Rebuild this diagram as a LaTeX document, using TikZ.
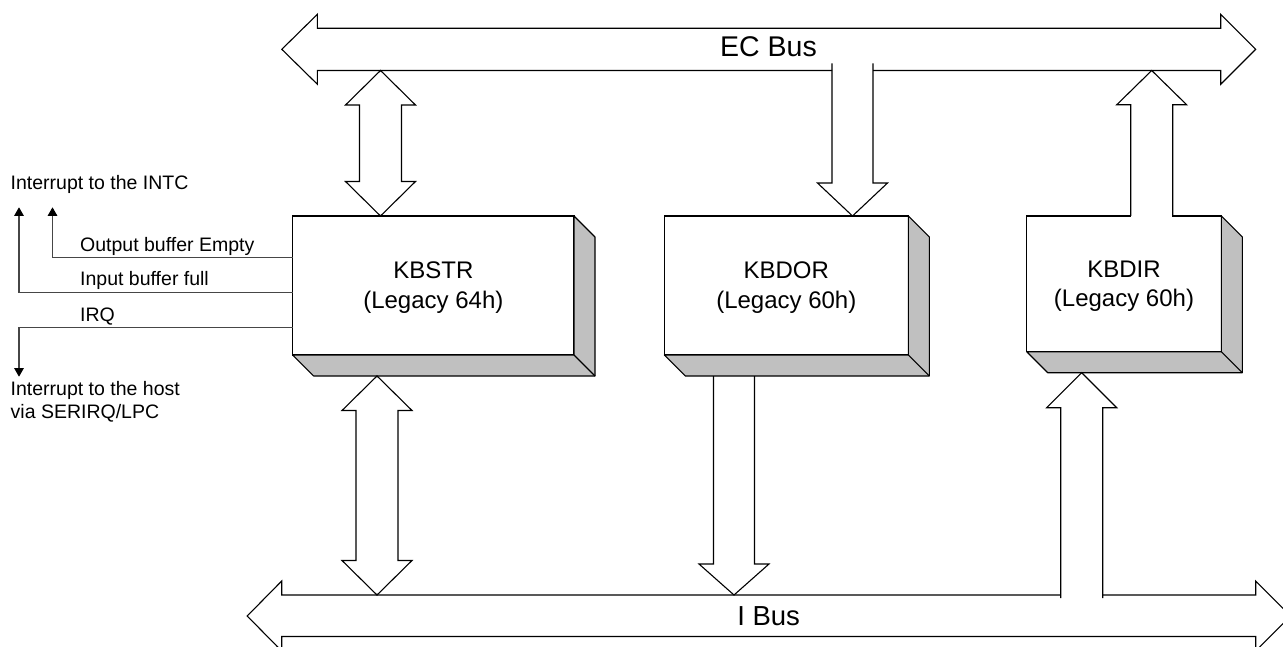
\documentclass[tikz,border=0pt]{standalone}
\usepackage{fontspec}
\setmainfont{Liberation Sans}
\usetikzlibrary{calc,arrows.meta}
\definecolor{shadowgray}{RGB}{192,192,192}
\definecolor{sigline}{RGB}{70,70,70}
\tikzset{
 ln/.style={line width=1.1pt, draw=black, line join=miter},
 fat/.style={ln},
 box/.style={draw=black, fill=white, line width=1.3pt, inner sep=0pt, outer sep=0pt, align=center, font=\fontsize{24}{29.5}\selectfont},
 side/.style={draw=black, fill=shadowgray, line width=1.1pt, line join=round},
 sig/.style={draw=sigline, line width=1.1pt},
 sigarr/.style={sig, -{Triangle[length=8.5pt,width=9.5pt,color=black]}},
 lbl/.style={font=\fontsize{19.5}{23}\selectfont, inner sep=0pt, anchor=base west},
 buslbl/.style={inner sep=0pt, anchor=base},
}
\newcommand\boxdepth[1]{%
 \draw[side] (#1.north east) -- ++(21,21) -- ($(#1.south east)+(21,21)$) -- ($(#1.south west)+(21,21)$) -- (#1.south west) -- (#1.south east) -- cycle;
 \draw[ln] (#1.south east) -- ++(21,21);}
\newcommand\fatdouble[2]{%
 \draw[fat] (#1) -- ++(35,34.5) -- ++(-14,0) -- ($(#2)+(21,-34.5)$) -- ++(14,0) -- (#2) -- ++(-35,-34.5) -- ++(14,0) -- ($(#1)+(-21,34.5)$) -- ++(-14,0) -- cycle;}
\newcommand\fatdown[3]{%
 \draw[fat] ($(#1)+(-20.5,0)$) -- ($(#2)+(-20.5,-#3)$) -- ++(-14.5,0) -- (#2) -- ++(35,-#3) -- ++(-14.5,0) -- ($(#1)+(20.5,0)$);}
\newcommand\fatup[3]{%
 \draw[fat] ($(#1)+(-21,0)$) -- ($(#2)+(-21,#3)$) -- ++(-14,0) -- (#2) -- ++(35,#3) -- ++(-14,0) -- ($(#1)+(21,0)$);}
\begin{document}
\begin{tikzpicture}[x=1pt,y=-1pt]
\useasboundingbox (0,0) rectangle (1283,647);
\fill[white] (0,0) rectangle (1283,647);
\begin{scope}
\clip (0,0) rectangle (1283,647);
% EC Bus
\draw[ln] (832,70.5) -- (317.4,70.5) -- (317.4,84.3) -- (281.8,49.3) -- (317.4,14.3) -- (317.4,28.3) -- (1220.7,28.3) -- (1220.7,14.3) -- (1255.7,49.3) -- (1220.7,84.3) -- (1220.7,70.5) -- (873,70.5);
% I Bus
\draw[ln] (1060.7,595) -- (281.7,595) -- (281.7,581) -- (247.2,616) -- (281.7,651) -- (281.7,636.5) -- (1255.7,636.5) -- (1255.7,651) -- (1290.7,616) -- (1255.7,581) -- (1255.7,595) -- (1102.7,595);
\end{scope}
\node[buslbl, font=\fontsize{28.5}{34}\selectfont] (ecbus) at (768.5,57) {EC Bus};
\node[buslbl, font=\fontsize{27.5}{33}\selectfont] (ibus) at (768.6,625) {I Bus};

% registers
\node[box, minimum width=281.3pt, minimum height=139pt] (kbstr) at (433.35,285.5) {\rule{0pt}{21pt}KBSTR\\(Legacy 64h)};
\node[box, minimum width=244pt, minimum height=139pt] (kbdor) at (786.3,285.5) {\rule{0pt}{21pt}KBDOR\\(Legacy 60h)};
\node[box, minimum width=194.6pt, minimum height=135.7pt] (kbdir) at (1124,283.85) {\rule{0pt}{21pt}KBDIR\\(Legacy 60h)};
\boxdepth{kbstr}
\boxdepth{kbdor}
\boxdepth{kbdir}

% bus ports
\coordinate (ec1) at (380.5,70.5);
\coordinate (ec2) at (852.5,63.5);
\coordinate (ec3) at (1151.7,70.5);
\coordinate (ib1) at (377,595);
\coordinate (ib2) at (734,595);
\coordinate (ib3) at (1081.7,598);

% KBSTR <-> EC Bus
\coordinate (s1b) at (ec1 |- kbstr.north);
\fatdouble{ec1}{s1b}
% KBSTR <-> I Bus
\coordinate (s2t) at ($(ib1 |- kbstr.south)+(0,21)$);
\fatdouble{s2t}{ib1}
% EC Bus -> KBDOR
\coordinate (d1b) at (ec2 |- kbdor.north);
\fatdown{ec2}{d1b}{33}
% KBDOR -> I Bus
\coordinate (d2t) at ($(ib2 |- kbdor.south)+(0,21)$);
\fatdown{d2t}{ib2}{31}
% KBDIR -> EC Bus
\coordinate (u1b) at (ec3 |- kbdir.north);
\fill[white] ($(u1b)+(-20.4,-1)$) rectangle ($(u1b)+(20.4,1)$);
\fatup{u1b}{ec3}{34.3}
% I Bus -> KBDIR
\coordinate (u2t) at ($(ib3 |- kbdir.south)+(0,21)$);
\fatup{ib3}{u2t}{35}

% interrupt signals
\coordinate (intcA) at (52.5,207.3);
\coordinate (intcB) at (19,207.3);
\coordinate (hostA) at (19,376.7);
\draw[sigarr] (kbstr.west |- 0,257.7) -| (intcA);
\draw[sigarr] (kbstr.west |- 0,292.7) -| (intcB);
\draw[sigarr] (kbstr.west |- 0,327.7) -| (hostA);

\node[lbl] (intc) at (10.5,189.3) {Interrupt to the INTC};
\node[lbl] (obe) at (80,251.7) {Output buffer Empty};
\node[lbl] (ibf) at (80,286) {Input buffer full};
\node[lbl] (irq) at (80,321) {IRQ};
\node[lbl] (host1) at (10.5,395) {Interrupt to the host};
\node[lbl] (host2) at (10.5,418) {via SERIRQ/LPC};
\end{tikzpicture}
\end{document}
